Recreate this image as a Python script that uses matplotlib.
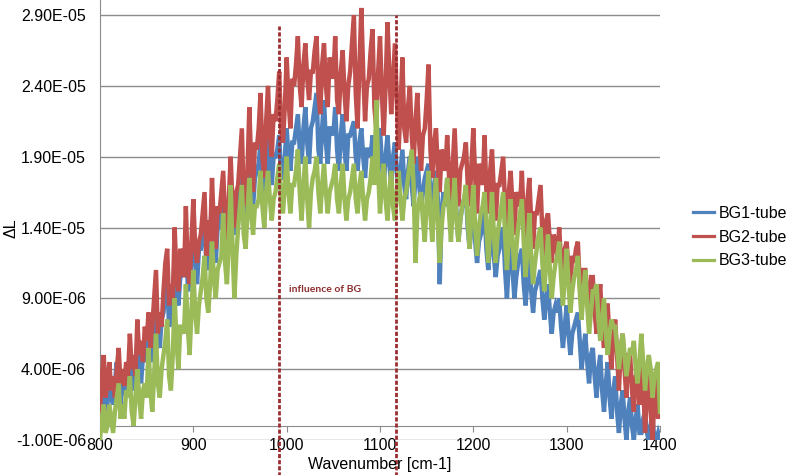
import numpy as np
import matplotlib.pyplot as plt

plt.rcParams['font.family'] = ['Liberation Sans', 'DejaVu Sans']

# wavenumber grid [cm-1], every 2 cm-1
wavenumber = np.arange(800, 1401, 2)

# delta L values, in units of 1E-06 (one row = 40 cm-1)
bg1_tube = [
    0.5, 2.0, 3.0, 1.0, 1.5, 4.0, 2.0, 1.5, 3.0, 4.5, 2.5, 1.5, 3.5, 3.0, 2.0, 4.0, 5.0, 3.0, 2.5, 4.0,
    6.0, 4.0, 3.0, 5.0, 5.5, 4.5, 7.5, 5.0, 4.5, 6.5, 9.0, 6.0, 5.5, 7.5, 8.0, 9.5, 10.5, 7.0, 7.5, 9.0,
    12.0, 9.5, 8.5, 10.5, 11.0, 10.5, 13.5, 10.0, 9.5, 12.0, 14.5, 11.5, 10.0, 12.5, 12.5, 13.5, 15.0, 11.0, 11.5, 13.5,
    16.0, 13.0, 11.5, 14.0, 14.0, 15.0, 16.5, 13.5, 12.5, 15.5, 17.0, 14.5, 13.5, 15.5, 16.0, 17.0, 18.5, 14.5, 15.0, 17.0,
    19.5, 17.0, 15.5, 17.5, 18.0, 18.5, 20.0, 17.0, 16.0, 18.5, 20.5, 18.0, 17.0, 19.0, 19.0, 19.5, 20.5, 17.5, 17.5, 19.0,
    21.0, 19.0, 18.0, 20.0, 20.0, 21.0, 22.0, 19.5, 18.5, 21.0, 22.5, 20.0, 18.5, 21.0, 21.5, 22.5, 23.5, 19.5, 18.5, 21.0,
    23.0, 20.0, 18.5, 21.0, 21.0, 20.5, 22.5, 19.5, 18.0, 20.5, 22.0, 19.5, 18.0, 20.5, 20.5, 21.0, 21.5, 19.0, 18.0, 20.0,
    21.0, 19.0, 17.5, 19.5, 19.5, 19.0, 20.5, 18.5, 17.5, 19.5, 21.0, 18.5, 17.0, 19.0, 20.5, 18.5, 17.0, 19.0, 20.0, 18.0,
    16.5, 18.0, 19.5, 17.0, 16.0, 18.0, 19.0, 17.0, 15.5, 17.5, 19.0, 17.0, 15.5, 16.5, 17.5, 18.0, 18.5, 16.5, 15.0, 17.0,
    18.0, 16.0, 10.0, 15.0, 16.5, 15.5, 17.5, 15.5, 14.0, 16.0, 17.0, 15.0, 13.0, 14.5, 15.5, 16.0, 16.5, 14.0, 12.5, 14.5,
    15.5, 13.0, 11.5, 13.0, 13.5, 14.0, 15.0, 12.5, 11.0, 13.0, 14.5, 12.0, 10.5, 12.0, 12.5, 13.5, 14.0, 11.0, 9.0, 11.5,
    13.5, 11.0, 9.0, 10.5, 11.5, 12.0, 12.5, 10.0, 8.5, 10.5, 12.0, 9.5, 8.0, 9.5, 10.0, 10.5, 11.0, 9.0, 7.5, 9.0,
    10.0, 8.0, 6.5, 8.0, 8.5, 8.0, 9.0, 7.0, 5.5, 7.0, 8.5, 6.5, 5.0, 6.5, 7.0, 7.5, 8.0, 6.0, 4.0, 5.5,
    6.5, 4.5, 3.0, 5.0, 5.5, 3.5, 2.0, 4.0, 5.0, 2.5, 1.0, 3.0, 4.5, 2.0, 0.5, 2.5, 3.5, 1.0, -0.5, 1.5,
    2.5, 0.5, -1.0, 1.0, 2.0, 0.0, -1.0, 0.5, 1.5, -0.5, -0.5, 0.5, 1.0, -0.5, -1.0, 0.0, 0.5, -1.0, -1.0, -0.5,
    -1.0,
]
bg2_tube = [
    1.0, 3.5, 5.0, 2.0, 3.0, 4.5, 2.5, 3.5, 2.0, 4.0, 5.5, 3.0, 4.0, 2.8, 4.5, 3.5, 6.5, 4.0, 5.0, 3.5,
    7.5, 5.0, 6.0, 4.5, 7.0, 6.0, 8.0, 5.5, 7.0, 9.0, 11.0, 6.5, 8.0, 7.0, 9.5, 11.5, 12.5, 8.5, 10.0, 9.0,
    14.0, 10.5, 9.5, 12.5, 12.0, 10.5, 15.5, 11.0, 10.0, 13.0, 16.0, 12.5, 11.5, 13.0, 13.5, 15.0, 16.5, 12.0, 14.5, 13.0,
    17.5, 14.0, 12.5, 15.5, 15.0, 16.5, 18.0, 14.5, 13.0, 16.0, 19.0, 15.5, 14.0, 16.5, 17.0, 19.0, 21.0, 16.0, 15.5, 18.0,
    22.5, 18.5, 16.5, 20.0, 19.5, 21.0, 23.5, 19.0, 17.5, 21.5, 24.0, 20.5, 19.0, 22.0, 21.5, 23.0, 25.0, 21.0, 20.0, 22.5,
    26.0, 23.0, 21.0, 24.5, 24.0, 25.5, 27.5, 24.0, 22.5, 25.5, 27.0, 24.5, 23.0, 25.0, 25.0, 26.5, 27.5, 23.5, 22.0, 25.5,
    27.0, 24.0, 22.5, 26.0, 25.5, 24.5, 27.5, 23.0, 22.0, 25.0, 26.5, 23.5, 21.5, 24.0, 25.0, 27.0, 29.0, 23.5, 21.0, 25.5,
    29.5, 25.0, 21.5, 24.0, 24.5, 26.5, 28.0, 22.5, 21.0, 25.0, 27.5, 23.5, 20.5, 24.0, 28.5, 25.0, 22.0, 24.5, 27.0, 23.0,
    19.5, 22.5, 26.0, 21.0, 20.0, 22.5, 24.0, 20.5, 18.5, 21.5, 23.5, 20.0, 18.0, 20.5, 21.0, 23.0, 25.5, 19.5, 17.5, 20.0,
    21.0, 18.0, 16.5, 19.5, 19.0, 18.0, 20.5, 17.5, 16.0, 18.5, 21.0, 17.5, 15.5, 18.0, 18.5, 19.0, 20.0, 17.0, 15.5, 18.5,
    21.0, 17.5, 15.0, 18.5, 18.0, 17.0, 20.5, 16.5, 15.0, 18.0, 19.5, 16.5, 14.5, 17.0, 17.0, 18.0, 19.0, 15.5, 14.0, 16.5,
    18.0, 15.5, 13.5, 16.5, 16.0, 15.5, 18.0, 14.5, 13.0, 16.0, 17.5, 14.5, 12.5, 15.0, 15.0, 16.0, 17.0, 13.5, 12.0, 14.5,
    15.0, 13.0, 11.5, 13.5, 13.0, 12.0, 14.0, 11.5, 10.5, 12.5, 13.0, 11.0, 10.0, 12.0, 11.5, 12.5, 13.0, 10.0, 8.5, 11.0,
    11.0, 9.0, 8.0, 10.5, 10.5, 8.0, 6.5, 9.0, 10.0, 7.0, 5.5, 8.5, 8.5, 6.0, 4.0, 6.5, 7.5, 5.0, 2.5, 5.5,
    6.5, 4.0, 2.0, 5.0, 5.0, 2.5, 1.0, 3.5, 4.0, 1.5, 6.0, 3.0, -0.5, 2.5, 4.5, 1.0, -1.0, 2.0, 3.5, 0.5,
    2.5,
]
bg3_tube = [
    -1.0, 0.5, 1.5, -0.5, 0.0, 1.5, 0.5, -0.5, 1.0, 2.0, 3.0, 0.5, 1.5, 0.5, 2.5, 2.0, 3.5, 1.0, 0.0, 2.0,
    4.0, 2.0, 0.5, 2.5, 3.0, 2.0, 5.5, 2.5, 1.0, 3.5, 6.5, 3.0, 2.0, 4.0, 5.0, 6.0, 7.5, 3.5, 2.5, 5.0,
    9.0, 6.0, 4.0, 7.0, 7.0, 6.5, 10.0, 7.0, 5.0, 8.0, 11.0, 8.0, 6.5, 8.5, 9.5, 10.5, 12.0, 9.0, 8.0, 10.0,
    13.0, 10.5, 9.0, 11.0, 11.5, 12.0, 15.0, 11.5, 10.0, 13.0, 17.0, 12.5, 9.0, 12.0, 14.0, 15.5, 17.0, 13.5, 12.5, 15.0,
    17.5, 15.0, 13.5, 15.5, 15.5, 16.0, 18.0, 15.5, 14.0, 16.5, 18.0, 16.0, 14.5, 16.0, 16.5, 17.5, 18.5, 16.0, 15.0, 17.0,
    19.0, 16.5, 15.0, 17.0, 17.0, 18.0, 19.5, 16.5, 14.5, 17.0, 19.0, 16.0, 14.0, 16.5, 17.5, 18.0, 19.0, 16.5, 15.0, 17.0,
    18.5, 16.5, 15.0, 16.5, 17.0, 17.5, 18.5, 16.0, 15.0, 17.0, 18.5, 16.0, 14.5, 16.0, 16.5, 17.5, 18.5, 16.0, 15.0, 17.0,
    18.0, 16.0, 14.5, 16.0, 16.5, 17.5, 19.0, 17.0, 23.0, 18.0, 15.0, 17.0, 18.5, 16.0, 14.5, 16.5, 18.0, 15.5, 14.5, 16.5,
    18.0, 16.0, 14.5, 16.0, 16.5, 17.5, 18.5, 19.5, 17.0, 11.5, 15.0, 16.0, 16.5, 14.5, 13.0, 16.0, 18.0, 15.0, 13.0, 15.5,
    17.5, 14.5, 11.5, 14.0, 15.5, 16.0, 17.5, 15.0, 13.0, 15.5, 17.5, 14.5, 13.0, 14.5, 15.5, 16.0, 17.0, 14.5, 12.5, 15.0,
    17.0, 14.0, 12.0, 14.0, 15.0, 15.5, 16.5, 14.0, 11.5, 14.0, 16.5, 13.5, 11.5, 13.5, 14.5, 15.5, 16.5, 13.5, 11.0, 13.5,
    16.0, 13.0, 11.0, 12.5, 14.0, 15.0, 16.0, 13.0, 10.5, 12.5, 15.0, 12.0, 10.0, 11.5, 12.5, 13.5, 14.0, 11.5, 9.5, 11.5,
    13.5, 11.0, 9.0, 10.5, 11.5, 12.0, 13.0, 10.5, 8.5, 10.5, 12.5, 10.0, 8.0, 9.5, 10.5, 11.0, 12.0, 9.5, 7.5, 9.5,
    11.0, 8.5, 6.5, 8.0, 9.5, 9.5, 10.0, 7.5, 6.0, 7.5, 9.0, 6.5, 5.0, 6.5, 7.5, 7.0, 7.0, 5.5, 4.0, 5.5,
    6.5, 5.0, 3.5, 4.5, 5.5, 5.0, 6.0, 4.0, 3.0, 4.5, 6.5, 4.5, 2.5, 4.0, 5.0, 4.0, 2.0, 3.5, 4.0, 4.5,
    1.0,
]

labels = ['BG1-tube', 'BG2-tube', 'BG3-tube']
colors = ['#4F81BD', '#C0504D', '#9BBB59']

# limits of the "influence of BG" region
bg_region = [992, 1117]

y_ticks = [-1e-6, 4e-6, 9e-6, 1.4e-5, 1.9e-5, 2.4e-5, 2.9e-5]

fig = plt.figure(figsize=(7.87, 4.75), dpi=100)
ax = fig.add_axes([100 / 787, 35 / 475, 560 / 787, 440 / 475])

for series, label, color in zip([bg1_tube, bg2_tube, bg3_tube], labels, colors):
    ax.plot(wavenumber, np.array(series) * 1e-6, color=color, lw=3.2,
            label=label, zorder=3, solid_joinstyle='miter')

# dashed markers of the BG region, running past the plot bottom
ax.plot([bg_region[0]] * 2, [-3.6e-6, 2.82e-5], color='#9B2D30', lw=2.0,
        linestyle=(0, (1.5, 0.7)), clip_on=False, zorder=5)
ax.plot([bg_region[1]] * 2, [-3.6e-6, 2.9e-5], color='#9B2D30', lw=2.0,
        linestyle=(0, (1.5, 0.7)), clip_on=False, zorder=5)
ax.text(1002, 9.6e-6, 'influence of BG', color='#8E2F2F', fontsize=7.5,
        fontweight='bold', family=['Lato', 'DejaVu Sans'], va='center')

ax.set_xlim(800, 1400)
ax.set_ylim(-1e-6, 3.006e-5)
ax.set_xticks([800, 900, 1000, 1100, 1200, 1300, 1400])
ax.set_yticks(y_ticks)
ax.set_yticklabels([f'{v:.2E}' for v in y_ticks])
ax.grid(axis='y', color='#8C8C8C', lw=1.0)
ax.set_axisbelow(True)

for side in ['top', 'right']:
    ax.spines[side].set_visible(False)
ax.spines['left'].set_color('#8C8C8C')
ax.spines['bottom'].set_color('#8C8C8C')
ax.spines['bottom'].set_position(('data', 0))
ax.tick_params(axis='x', length=4, color='#8C8C8C', pad=4.5, labelsize=11.5)
ax.tick_params(axis='y', length=0, pad=10, labelsize=11.5)

fig.text(380 / 787, 1 - 465 / 475, 'Wavenumber [cm-1]', ha='center', va='center', fontsize=11.5)
fig.text(11 / 787, 1 - 228 / 475, 'ΔL', rotation=90, ha='center', va='center', fontsize=11.5)

leg = fig.legend(loc='center left', bbox_to_anchor=(693 / 787, 1 - 237 / 475),
                 frameon=False, fontsize=11.5, handlelength=1.3, handletextpad=0.3,
                 labelspacing=0.55, borderpad=0, borderaxespad=0)
for line in leg.get_lines():
    line.set_linewidth(2.3)

fig.savefig('out.png', dpi=100)
